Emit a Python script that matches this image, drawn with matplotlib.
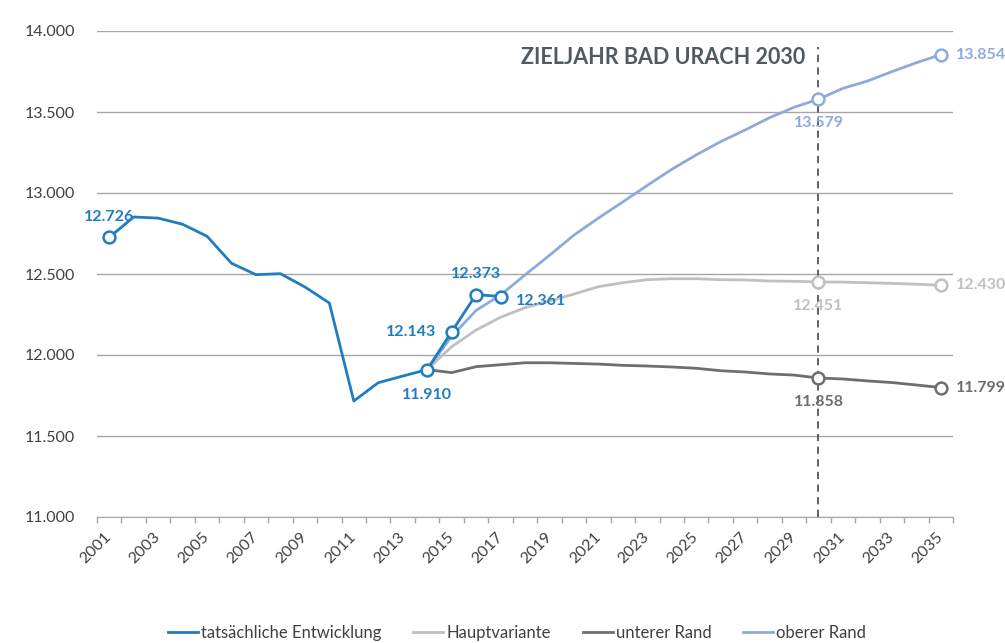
import numpy as np
import matplotlib
matplotlib.use("Agg")
import matplotlib.pyplot as plt
from matplotlib.ticker import FuncFormatter, FixedLocator
from matplotlib.lines import Line2D

plt.rcParams['font.family'] = ['Lato', 'DejaVu Sans']

# categories
years = list(range(2001, 2036))
proj_start = 2014

# tatsächliche Entwicklung 2001-2017
actual = [12726, 12852, 12845, 12807, 12733, 12566, 12496, 12502, 12420, 12321,
          11716, 11829, 11870, 11910, 12143, 12373, 12361]
# Vorausrechnung 2014-2035
haupt = [11910, 12051, 12154, 12233, 12292, 12333, 12376, 12422, 12446, 12465, 12471,
         12471, 12465, 12463, 12457, 12455, 12451, 12450, 12446, 12442, 12437, 12430]
unten = [11910, 11891, 11928, 11940, 11952, 11952, 11948, 11944, 11936, 11932, 11926,
         11918, 11903, 11895, 11883, 11876, 11858, 11852, 11840, 11830, 11815, 11799]
oben = [11910, 12115, 12275, 12370, 12494, 12615, 12740, 12845, 12945, 13047, 13146,
        13235, 13317, 13389, 13465, 13529, 13579, 13646, 13691, 13749, 13804, 13854]

target_year = 2030

c_actual = '#1f7dc1'
c_haupt = '#c0c0c0'
c_unten = '#6e6e6e'
c_oben = '#8eaadd'
c_text = '#404040'


def fmt_de(v):
    return f"{int(round(v)):,}".replace(',', '.')


def main():
    fig = plt.figure(figsize=(10.05, 6.43), dpi=100)
    ax = fig.add_axes([97 / 1005, 1 - 517 / 643, 856 / 1005, 486 / 643])

    x_all = np.arange(len(years))
    x_act = x_all[:len(actual)]
    x_proj = x_all[years.index(proj_start):]

    ax.plot(x_proj, haupt, color=c_haupt, lw=2, zorder=3, solid_joinstyle='round')
    ax.plot(x_proj, unten, color=c_unten, lw=2, zorder=3, solid_joinstyle='round')
    ax.plot(x_proj, oben, color=c_oben, lw=2, zorder=3, solid_joinstyle='round')
    ax.plot(x_act, actual, color=c_actual, lw=2, zorder=5, solid_joinstyle='round')

    mk = dict(marker='o', ms=8.5, mfc='white', mew=1.8, ls='none')

    # markers + labels on actual series
    act_marks = [(2001, (0, 14.5), 'center'), (2014, (0, -18), 'center'),
                 (2015, (-11, 0), 'right'), (2016, (0, 14.5), 'center'),
                 (2017, (11, -3), 'left')]
    for yr, off, ha in act_marks:
        i = years.index(yr)
        ax.plot([x_all[i]], [actual[i]], mec=c_actual, zorder=6, **mk)
        ax.annotate(fmt_de(actual[i]), (x_all[i], actual[i]), xytext=off,
                    textcoords='offset points', ha=ha, va='center',
                    color=c_actual, fontsize=11.5, fontweight='bold', zorder=7)

    # markers + labels on projections
    for series, col in [(oben, c_oben), (haupt, c_haupt), (unten, c_unten)]:
        for yr in (target_year, years[-1]):
            j = yr - proj_start
            xi = x_proj[j]
            ax.plot([xi], [series[j]], mec=col, zorder=6, **mk)
            if yr == target_year:
                off, ha = (0, -17), 'center'
            else:
                off, ha = (11, 0), 'left'
            ax.annotate(fmt_de(series[j]), (xi, series[j]), xytext=off,
                        textcoords='offset points', ha=ha, va='center',
                        color=col, fontsize=11.5, fontweight='bold', zorder=7,
                        annotation_clip=False)

    # target year line
    xt = years.index(target_year)
    ax.vlines(xt, 11000, 13900, colors='#555555', linestyles=(0, (4, 3)), lw=1.3, zorder=4)
    ax.text(0.827, 0.946, 'ZIELJAHR BAD URACH 2030', transform=ax.transAxes,
            ha='right', va='center', fontsize=15.5, fontweight='bold', color='#4f5b61')

    # axes
    ax.set_ylim(11000, 14000)
    ax.set_xlim(-0.5, len(years) - 0.5)
    ax.set_yticks(np.arange(11000, 14001, 500))
    ax.yaxis.set_major_formatter(FuncFormatter(lambda v, p: fmt_de(v)))
    ax.grid(axis='y', color='#a6a6a6', lw=1)
    ax.set_axisbelow(True)
    ax.tick_params(axis='y', length=0, pad=16, labelsize=11.5, labelcolor=c_text)

    ax.xaxis.set_major_locator(FixedLocator(np.arange(-0.5, len(years), 1)))
    ax.xaxis.set_major_formatter(FuncFormatter(lambda v, p: ''))
    lab_idx = [i for i, y in enumerate(years) if y % 2 == 1]
    ax.xaxis.set_minor_locator(FixedLocator(lab_idx))
    ax.set_xticklabels([str(years[i]) for i in lab_idx], minor=True)
    ax.tick_params(axis='x', which='major', length=4, color='#a6a6a6', width=1)
    ax.tick_params(axis='x', which='minor', length=0, pad=13, labelsize=11.5, labelcolor=c_text)
    for lbl in ax.get_xticklabels(minor=True):
        lbl.set_rotation(45)
        lbl.set_ha('right')
        lbl.set_va('center')
        lbl.set_rotation_mode('anchor')

    for s in ('left', 'right', 'top'):
        ax.spines[s].set_visible(False)
    ax.spines['bottom'].set_color('#a6a6a6')

    handles = [Line2D([], [], color=c_actual, lw=2),
               Line2D([], [], color=c_haupt, lw=2),
               Line2D([], [], color=c_unten, lw=2),
               Line2D([], [], color=c_oben, lw=2)]
    labels = ['tatsächliche Entwicklung', 'Hauptvariante', 'unterer Rand', 'oberer Rand']
    fig.legend(handles, labels, loc='center', bbox_to_anchor=(517 / 1005, 1 - 633 / 643),
               ncol=4, frameon=False, fontsize=12, handlelength=1.8,
               handletextpad=0.2, columnspacing=1.9, labelcolor=c_text)

    fig.savefig('out.png', dpi=100)


if __name__ == "__main__":
    main()
